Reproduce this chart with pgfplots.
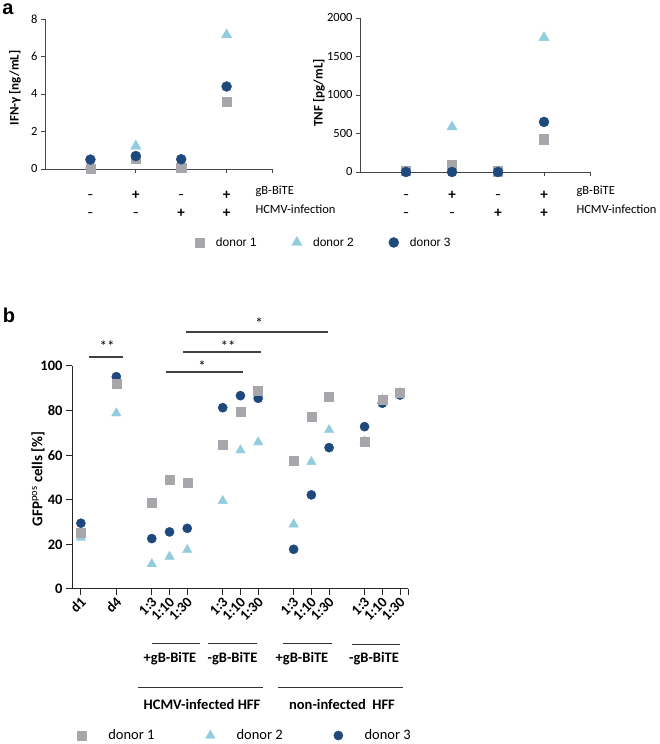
\documentclass[border=0pt]{standalone}
\usepackage{pgfplots}
\pgfplotsset{compat=1.18}
\usepackage{fontspec}
\setmainfont{Carlito}
\newfontfamily\arialf{Liberation Sans}
\definecolor{dgrey}{RGB}{166,166,171}
\definecolor{dlblue}{RGB}{147,205,221}
\definecolor{ddblue}{RGB}{31,73,125}
\definecolor{axc}{RGB}{70,70,70}
\newcommand{\pl}{{\fontsize{15bp}{15bp}\selectfont\bfseries +}}
\newcommand{\mi}{\raisebox{1.7bp}{\fontsize{12bp}{12bp}\selectfont\bfseries –}}
\pgfplotsset{
  base/.style={scale only axis, clip=false,
    axis x line*=bottom, axis y line*=left,
    axis line style={axc, line width=0.9bp},
    tick style={axc, line width=0.9bp},
    tick align=outside,
    /pgf/number format/assume math mode=true,
    /pgf/number format/1000 sep={},
    scaled ticks=false},
  sA/.style={only marks, mark=square*, color=dgrey},
  sB/.style={only marks, mark=triangle*, color=dlblue},
  sC/.style={only marks, mark=*, color=ddblue},
}
\begin{document}
\begin{tikzpicture}[x=1bp,y=1bp]
\useasboundingbox (0,0) rectangle (660,744);
% ---------------- panel a, left (IFN-gamma)
\begin{axis}[base, at={(45bp,575bp)}, anchor=south west,
  width=227bp, height=150bp,
  xmin=0, xmax=5, ymin=0, ymax=8,
  ytick={0,2,4,6,8},
  major tick length=4bp,
  tick label style={font=\fontsize{12.5bp}{14bp}\selectfont},
  xtick={1,2,3,4,5}, xticklabels={\mi,\pl,\mi,\pl,{}},
  xticklabel style={anchor=base, yshift=-27bp},
  extra x ticks={1,2,3,4}, extra x tick labels={\mi,\mi,\pl,\pl},
  extra x tick style={xticklabel style={yshift=-18bp}},
  legend image code/.code={\draw[#1] plot coordinates {(0bp,0bp)}; \path (16bp,0bp);},
  legend style={at={(0.6476,-0.487)}, anchor=west, draw=none, fill=none,
    legend columns=3, font=\arialf\fontsize{12bp}{14bp}\selectfont,
    nodes={inner sep=0bp},
    /tikz/every even column/.append style={column sep=35bp}},
  legend cell align=left,
]
\addlegendimage{mark=square*, mark size=4.6bp, color=dgrey}
\addlegendentry{donor 1}
\addlegendimage{mark=triangle*, mark size=6bp, color=dlblue}
\addlegendentry{donor 2}
\addlegendimage{mark=*, mark size=5bp, color=ddblue}
\addlegendentry{donor 3}
\addplot[sB, mark size=6bp, forget plot] coordinates {(1,0.20) (2,1.22) (3,0.30) (4,7.15)};
\addplot[sA, mark size=4.6bp, forget plot] coordinates {(1,0.02) (2,0.55) (3,0.05) (4,3.60)};
\addplot[sC, mark size=5bp, forget plot] coordinates {(1,0.50) (2,0.69) (3,0.52) (4,4.40)};
\end{axis}
% ---------------- panel a, right (TNF)
\begin{axis}[base, at={(360bp,572bp)}, anchor=south west,
  width=230bp, height=154bp,
  xmin=0, xmax=5, ymin=0, ymax=2000,
  ytick={0,500,1000,1500,2000},
  major tick length=4bp,
  tick label style={font=\fontsize{12.5bp}{14bp}\selectfont},
  xtick={1,2,3,4,5}, xticklabels={\mi,\pl,\mi,\pl,{}},
  xticklabel style={anchor=base, yshift=-24bp},
  extra x ticks={1,2,3,4}, extra x tick labels={\mi,\mi,\pl,\pl},
  extra x tick style={xticklabel style={yshift=-18bp}},
]
\addplot[sB, mark size=6bp] coordinates {(1,5) (2,585) (3,5) (4,1745)};
\addplot[sA, mark size=4.6bp] coordinates {(1,15) (2,90) (3,10) (4,425)};
\addplot[sC, mark size=5bp] coordinates {(1,0) (2,0) (3,0) (4,650)};
\end{axis}
% ---------------- panel b
\begin{axis}[base, at={(72bp,155bp)}, anchor=south west,
  width=336bp, height=223bp,
  xmin=-0.5, xmax=18.45, ymin=0, ymax=100,
  ytick={0,20,40,60,80,100},
  axis line style={black!85, line width=1bp},
  tick style={black!85, line width=1bp},
  major tick length=6bp,
  tick label style={font=\bfseries\fontsize{14.5bp}{16bp}\selectfont},
  xtick={0,2,4,5,6,8,9,10,12,13,14,16,17,18},
  xticklabels={d1,d4,1:3,1:10,1:30,1:3,1:10,1:30,1:3,1:10,1:30,1:3,1:10,1:30},
  xticklabel style={rotate=45, anchor=east, yshift=-5bp, xshift=2bp},
  extra x ticks={18.45}, extra x tick labels={},
  legend image code/.code={\draw[#1] plot coordinates {(0bp,0bp)}; \path (26bp,0bp);},
  legend style={at={(0.0074,-0.657)}, anchor=west, draw=none, fill=none,
    legend columns=3, font=\fontsize{14.5bp}{16bp}\selectfont,
    nodes={inner sep=0bp},
    /tikz/every even column/.append style={column sep=51bp}},
  legend cell align=left,
]
\addlegendimage{mark=square*, mark size=4.5bp, color=dgrey}
\addlegendentry{donor 1}
\addlegendimage{mark=triangle*, mark size=5.5bp, color=dlblue}
\addlegendentry{donor 2}
\addlegendimage{mark=*, mark size=4.6bp, color=ddblue}
\addlegendentry{donor 3}
\addplot[sC, mark size=4.6bp, forget plot] coordinates {
(0,29.5) (2,95.2) (4,22.6) (5,25.6) (6,27.2) (8,81.3) (9,86.7) (10,85.5)
(12,17.8) (13,42.2) (14,63.4) (16,72.8) (17,83.3) (18,87.0)};
\addplot[sB, mark size=5.5bp, forget plot] coordinates {
(0,23.0) (2,78.8) (4,11.2) (5,14.5) (6,17.5) (8,39.5) (9,62.2) (10,65.8)
(12,29.0) (13,57.0) (14,71.3) (16,66.2) (17,85.0) (18,88.0)};
\addplot[sA, mark size=4.5bp, forget plot] coordinates {
(0,25.4) (2,92.2) (4,38.7) (5,48.9) (6,47.8) (8,64.7) (9,79.7) (10,88.8)
(12,57.4) (13,77.3) (14,86.2) (16,66.2) (17,85.0) (18,88.0)};
\end{axis}
% ---------------- texts and annotation lines
\node[font=\arialf\bfseries\fontsize{20bp}{22bp}\selectfont] at (8,735) {a};
\node[font=\arialf\bfseries\fontsize{20bp}{22bp}\selectfont] at (9,429) {b};
\node[rotate=90, font=\bfseries\fontsize{13bp}{15bp}\selectfont] at (15,656) {IFN-γ [ng/mL]};
\node[rotate=90, font=\bfseries\fontsize{13bp}{15bp}\selectfont] at (319,651) {TNF [pg/mL]};
\node[rotate=90, font=\bfseries\fontsize{15bp}{17bp}\selectfont] at (38,265) {GFP\textsuperscript{\mdseries pos} cells [\%]};
\begin{scope}[font=\fontsize{12.5bp}{14bp}\selectfont]
\node[anchor=west] at (252,553) {gB-BiTE};
\node[anchor=west] at (252,535) {HCMV-infection};
\node[anchor=west] at (573,553) {gB-BiTE};
\node[anchor=west] at (573,535) {HCMV-infection};
\end{scope}
% significance
\begin{scope}[line width=1.1bp, draw=black!75]
\draw (89,387) -- (123,387);
\draw (166,372) -- (243,372);
\draw (183,392) -- (261,392);
\draw (186,412) -- (328,412);
\end{scope}
\begin{scope}[font=\fontsize{15bp}{17bp}\selectfont, anchor=base]
\node at (107,392.5) {**};
\node at (202,372.5) {*};
\node at (228,392.5) {**};
\node at (259,415.5) {*};
\end{scope}
% groups
\begin{scope}[line width=1bp, draw=black!80]
\draw (152,100) -- (200,100);
\draw (208,100) -- (257,100);
\draw (283,100) -- (332,100);
\draw (352,99) -- (400,99);
\draw (138,56) -- (263,56);
\draw (278,56) -- (403,56);
\end{scope}
\begin{scope}[font=\bfseries\fontsize{14.5bp}{16bp}\selectfont]
\node at (170,85) {+gB-BiTE};
\node at (232.5,85) {-gB-BiTE};
\node at (302,85) {+gB-BiTE};
\node at (374,85) {-gB-BiTE};
\node at (202,40) {HCMV-infected HFF};
\node at (342,40) {non-infected\ \ HFF};
\end{scope}
\end{tikzpicture}
\end{document}
